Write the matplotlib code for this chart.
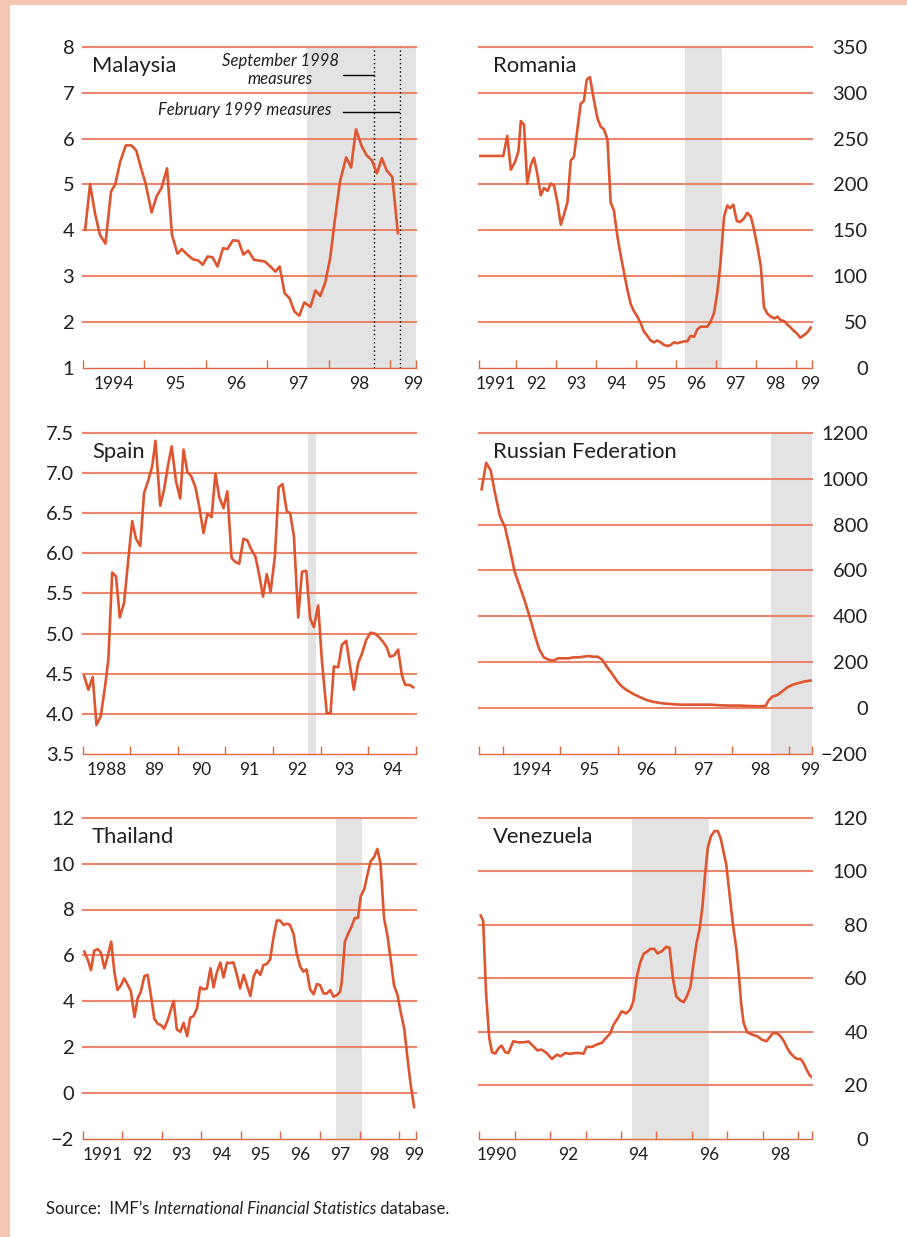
import numpy as np
import matplotlib.pyplot as plt
from matplotlib.patches import Rectangle

plt.rcParams['font.family'] = ['Lato', 'DejaVu Sans']

# ---- data (decimal years, values) ----
malaysia_x = [1994.04, 1994.12, 1994.20, 1994.28, 1994.37, 1994.46, 1994.53, 1994.61, 1994.70, 1994.79,
              1994.87, 1994.94, 1995.02, 1995.12, 1995.20, 1995.28, 1995.37, 1995.45, 1995.54, 1995.61,
              1995.70, 1995.79, 1995.88, 1995.95, 1996.03, 1996.11, 1996.19, 1996.28, 1996.35, 1996.44,
              1996.53, 1996.61, 1996.69, 1996.78, 1996.87, 1996.96, 1997.05, 1997.13, 1997.20, 1997.28,
              1997.36, 1997.44, 1997.52, 1997.60, 1997.70, 1997.78, 1997.86, 1997.94, 1998.02, 1998.10,
              1998.18, 1998.28, 1998.36, 1998.44, 1998.53, 1998.61, 1998.70, 1998.78, 1998.86, 1998.94,
              1999.03, 1999.12]
malaysia_y = [4.01, 5.01, 4.37, 3.90, 3.71, 4.84, 5.01, 5.50, 5.85, 5.85,
              5.74, 5.39, 5.03, 4.39, 4.74, 4.92, 5.35, 3.90, 3.49, 3.59,
              3.47, 3.37, 3.34, 3.25, 3.43, 3.41, 3.21, 3.61, 3.59, 3.78,
              3.77, 3.47, 3.56, 3.36, 3.34, 3.32, 3.21, 3.10, 3.21, 2.63,
              2.52, 2.23, 2.14, 2.43, 2.33, 2.69, 2.57, 2.86, 3.39, 4.26,
              5.06, 5.59, 5.37, 6.20, 5.84, 5.64, 5.52, 5.24, 5.57, 5.30,
              5.16, 3.94]

romania_x = [1991.10, 1991.68, 1991.78, 1991.87, 1991.97, 1992.06, 1992.12, 1992.20, 1992.28, 1992.37,
             1992.45, 1992.53, 1992.62, 1992.70, 1992.79, 1992.87, 1992.95, 1993.04, 1993.12, 1993.20,
             1993.29, 1993.37, 1993.45, 1993.54, 1993.62, 1993.70, 1993.77, 1993.85, 1993.95, 1994.04,
             1994.12, 1994.20, 1994.29, 1994.37, 1994.45, 1994.54, 1994.62, 1994.70, 1994.79, 1994.87,
             1994.95, 1995.04, 1995.12, 1995.20, 1995.29, 1995.37, 1995.46, 1995.54, 1995.62, 1995.71,
             1995.79, 1995.87, 1995.96, 1996.04, 1996.12, 1996.21, 1996.29, 1996.37, 1996.46, 1996.54,
             1996.62, 1996.71, 1996.79, 1996.87, 1996.96, 1997.04, 1997.12, 1997.21, 1997.29, 1997.36,
             1997.44, 1997.53, 1997.61, 1997.71, 1997.79, 1997.88, 1997.96, 1998.05, 1998.13, 1998.21,
             1998.30, 1998.38, 1998.47, 1998.55, 1998.63, 1998.72, 1998.80, 1998.88, 1998.97, 1999.05,
             1999.12, 1999.22, 1999.30, 1999.38]
romania_y = [231, 231, 253, 216, 224, 236, 269, 265, 201, 221,
             229, 212, 188, 196, 193, 201, 199, 180, 156, 167,
             181, 226, 230, 261, 288, 291, 314, 317, 292, 272,
             263, 260, 249, 180, 172, 143, 123, 105, 85, 70,
             62, 56, 49, 40, 35, 30, 28, 30, 28, 25,
             24, 25, 28, 27, 28, 29, 29, 35, 34, 42,
             45, 45, 45, 50, 60, 82, 114, 165, 177, 174,
             178, 160, 159, 163, 169, 165, 151, 131, 111, 66,
             59, 56, 54, 56, 52, 51, 47, 44, 40, 37,
             33, 36, 39, 44]

spain_x = [1988.03, 1988.12, 1988.21, 1988.29, 1988.38, 1988.47, 1988.54, 1988.62, 1988.70, 1988.78,
           1988.87, 1988.95, 1989.04, 1989.12, 1989.21, 1989.29, 1989.37, 1989.46, 1989.53, 1989.63,
           1989.71, 1989.79, 1989.87, 1989.96, 1990.05, 1990.12, 1990.20, 1990.28, 1990.37, 1990.45,
           1990.54, 1990.62, 1990.71, 1990.79, 1990.87, 1990.96, 1991.04, 1991.13, 1991.21, 1991.29,
           1991.38, 1991.46, 1991.54, 1991.63, 1991.71, 1991.79, 1991.87, 1991.95, 1992.04, 1992.12,
           1992.20, 1992.29, 1992.36, 1992.44, 1992.53, 1992.61, 1992.70, 1992.78, 1992.86, 1992.95,
           1993.03, 1993.13, 1993.21, 1993.28, 1993.37, 1993.45, 1993.54, 1993.62, 1993.70, 1993.79,
           1993.87, 1993.96, 1994.05, 1994.14, 1994.22, 1994.31, 1994.39, 1994.46, 1994.55, 1994.63,
           1994.71, 1994.78, 1994.87, 1994.95]
spain_y = [4.47, 4.30, 4.46, 3.86, 3.97, 4.34, 4.68, 5.76, 5.71, 5.20,
           5.38, 5.87, 6.40, 6.18, 6.09, 6.75, 6.89, 7.08, 7.40, 6.59,
           6.79, 7.08, 7.33, 6.90, 6.68, 7.29, 7.01, 6.96, 6.82, 6.58,
           6.25, 6.49, 6.45, 6.99, 6.70, 6.56, 6.77, 5.94, 5.89, 5.87,
           6.18, 6.16, 6.05, 5.96, 5.73, 5.46, 5.74, 5.52, 5.96, 6.82,
           6.86, 6.52, 6.50, 6.21, 5.20, 5.77, 5.78, 5.19, 5.08, 5.35,
           4.65, 4.01, 4.01, 4.59, 4.58, 4.86, 4.91, 4.59, 4.30, 4.63,
           4.75, 4.92, 5.01, 5.00, 4.96, 4.90, 4.83, 4.71, 4.73, 4.80,
           4.48, 4.36, 4.36, 4.33]

russia_x = [1993.62, 1993.70, 1993.78, 1993.85, 1993.94, 1994.03, 1994.12, 1994.20, 1994.29, 1994.38,
            1994.47, 1994.56, 1994.63, 1994.71, 1994.80, 1994.88, 1994.96, 1995.05, 1995.14, 1995.23,
            1995.32, 1995.40, 1995.49, 1995.57, 1995.65, 1995.73, 1995.81, 1995.90, 1996.00, 1996.08,
            1996.16, 1996.28, 1996.40, 1996.51, 1996.63, 1996.78, 1996.92, 1997.10, 1997.27, 1997.45,
            1997.63, 1997.80, 1997.98, 1998.15, 1998.33, 1998.50, 1998.59, 1998.65, 1998.71, 1998.80,
            1998.88, 1998.97, 1999.06, 1999.15, 1999.26, 1999.38]
russia_y = [953, 1069, 1035, 943, 837, 788, 689, 594, 529, 464,
            391, 311, 256, 221, 210, 207, 217, 217, 217, 221,
            221, 224, 227, 224, 224, 212, 181, 151, 115, 93,
            79, 61, 47, 35, 27, 21, 18, 15, 15, 15,
            15, 12, 11, 11, 9, 8, 9, 35, 50, 57,
            72, 90, 101, 108, 115, 120]

thailand_x = [1991.04, 1991.13, 1991.21, 1991.29, 1991.38, 1991.46, 1991.55, 1991.63, 1991.72, 1991.80,
              1991.88, 1991.97, 1992.05, 1992.14, 1992.22, 1992.31, 1992.39, 1992.47, 1992.56, 1992.64,
              1992.73, 1992.81, 1992.89, 1992.98, 1993.06, 1993.15, 1993.23, 1993.30, 1993.38, 1993.47,
              1993.55, 1993.64, 1993.72, 1993.80, 1993.89, 1993.97, 1994.06, 1994.14, 1994.23, 1994.31,
              1994.39, 1994.48, 1994.56, 1994.65, 1994.73, 1994.81, 1994.90, 1994.98, 1995.07, 1995.15,
              1995.24, 1995.32, 1995.40, 1995.49, 1995.57, 1995.66, 1995.74, 1995.83, 1995.91, 1995.99,
              1996.08, 1996.16, 1996.24, 1996.33, 1996.41, 1996.50, 1996.58, 1996.66, 1996.75, 1996.84,
              1996.92, 1997.00, 1997.09, 1997.17, 1997.26, 1997.34, 1997.43, 1997.51, 1997.55, 1997.63,
              1997.71, 1997.80, 1997.88, 1997.96, 1998.03, 1998.12, 1998.20, 1998.28, 1998.37, 1998.45,
              1998.53, 1998.62, 1998.71, 1998.79, 1998.87, 1998.96, 1999.04, 1999.13, 1999.21, 1999.29,
              1999.38]
thailand_y = [6.17, 5.80, 5.36, 6.21, 6.27, 6.12, 5.44, 5.95, 6.60, 5.29,
              4.49, 4.71, 5.00, 4.71, 4.42, 3.32, 4.13, 4.42, 5.10, 5.15,
              4.20, 3.25, 3.03, 2.96, 2.81, 3.18, 3.64, 4.02, 2.77, 2.67,
              3.06, 2.48, 3.29, 3.35, 3.69, 4.61, 4.52, 4.56, 5.44, 4.61,
              5.25, 5.69, 5.04, 5.69, 5.66, 5.70, 5.15, 4.56, 5.15, 4.71,
              4.23, 5.07, 5.36, 5.15, 5.58, 5.63, 5.83, 6.85, 7.52, 7.52,
              7.33, 7.38, 7.33, 6.94, 6.09, 5.51, 5.29, 5.39, 4.52, 4.31,
              4.75, 4.71, 4.34, 4.34, 4.49, 4.20, 4.27, 4.42, 4.85, 6.60,
              6.94, 7.26, 7.63, 7.63, 8.57, 8.89, 9.52, 10.10, 10.29, 10.64,
              10.00, 7.63, 6.82, 5.80, 4.71, 4.27, 3.54, 2.81, 1.57, 0.41,
              -0.61]

venezuela_x = [1990.04, 1990.11, 1990.19, 1990.28, 1990.36, 1990.45, 1990.55, 1990.63, 1990.73, 1990.82,
               1990.96, 1991.10, 1991.24, 1991.39, 1991.53, 1991.64, 1991.76, 1991.90, 1992.05, 1992.19,
               1992.30, 1992.42, 1992.56, 1992.71, 1992.85, 1992.94, 1993.03, 1993.18, 1993.32, 1993.46,
               1993.58, 1993.69, 1993.79, 1993.90, 1994.02, 1994.14, 1994.26, 1994.35, 1994.45, 1994.54,
               1994.64, 1994.73, 1994.83, 1994.94, 1995.03, 1995.16, 1995.28, 1995.37, 1995.47, 1995.56,
               1995.67, 1995.77, 1995.86, 1995.96, 1996.05, 1996.13, 1996.22, 1996.30, 1996.37, 1996.45,
               1996.54, 1996.64, 1996.73, 1996.81, 1996.88, 1996.97, 1997.07, 1997.16, 1997.26, 1997.33,
               1997.39, 1997.46, 1997.56, 1997.70, 1997.84, 1997.98, 1998.11, 1998.20, 1998.29, 1998.41,
               1998.50, 1998.60, 1998.69, 1998.78, 1998.88, 1998.97, 1999.07, 1999.14, 1999.24, 1999.33,
               1999.38]
venezuela_y = [83.5, 81.4, 54.6, 37.8, 32.4, 31.9, 34.0, 34.9, 32.4, 32.1,
               36.5, 36.1, 36.1, 36.4, 34.6, 33.1, 33.4, 32.1, 29.9, 31.5,
               30.9, 32.1, 31.8, 32.1, 32.1, 31.8, 34.4, 34.4, 35.3, 35.9,
               37.8, 39.3, 42.7, 44.9, 47.7, 46.9, 48.3, 51.5, 60.8, 65.8,
               69.2, 69.9, 71.0, 71.0, 69.3, 70.2, 71.8, 71.4, 59.6, 53.3,
               51.8, 51.1, 53.3, 56.8, 65.8, 73.0, 78.5, 87.0, 98.2, 108.8,
               113.1, 115.0, 115.0, 112.5, 108.2, 102.6, 90.7, 80.1, 70.8, 60.8,
               50.8, 43.4, 39.9, 39.0, 38.4, 37.1, 36.5, 38.1, 39.6, 39.4,
               38.4, 36.5, 34.0, 32.1, 30.7, 29.9, 29.9, 28.7, 25.9, 23.7,
               23.2]

# x tick labels, one per year (Venezuela every other year)
malaysia_labels = ['1994', '95', '96', '97', '98', '99']
romania_labels = ['1991', '92', '93', '94', '95', '96', '97', '98', '99']
spain_labels = ['1988', '89', '90', '91', '92', '93', '94']
russia_labels = ['1994', '95', '96', '97', '98', '99']
thailand_labels = ['1991', '92', '93', '94', '95', '96', '97', '98', '99']
venezuela_labels = ['1990', '92', '94', '96', '98']

BORDER = '#F5C6B1'
GRID = '#E8876B'
LINE = '#DE5530'
SPINE = '#E0673F'
SHADE = '#E3E3E3'
TXT = '#231F20'

fig = plt.figure(figsize=(9.07, 12.37), dpi=100, facecolor=BORDER)
fig.add_artist(Rectangle((10 / 907, 0), 1, 1 - 5 / 1237, transform=fig.transFigure,
                         facecolor='white', edgecolor='none', zorder=0))


def panel(rect, x, y, name, xlim, ylim, ystep, labels, label_years,
          shade=None, right=False, fmt='{:g}'):
    ax = fig.add_axes(rect)
    ax.patch.set_visible(False)
    ax.plot(x, y, color=LINE, lw=1.9, zorder=3, solid_joinstyle='round')
    ax.set_xlim(*xlim)
    ax.set_ylim(*ylim)
    if shade:
        ax.axvspan(shade[0], shade[1], color=SHADE, lw=0, zorder=0)
    yt = np.arange(ylim[0], ylim[1] + ystep / 2, ystep)
    for v in yt[1:]:
        ax.axhline(v, color=GRID, lw=1.5, zorder=1, clip_on=False)
    ax.set_yticks(yt)
    ax.set_yticklabels([fmt.format(v).replace('-', '\u2212') for v in yt])
    for s in ['top', 'left', 'right']:
        ax.spines[s].set_visible(False)
    ax.spines['bottom'].set_color(SPINE)
    ax.spines['bottom'].set_linewidth(1.0)
    # year boundary ticks plus both ends
    years = [yy for yy in range(int(np.ceil(xlim[0])), int(xlim[1]) + 1)]
    majors = sorted(set([xlim[0]] + years + [xlim[1]]))
    ax.set_xticks(majors)
    ax.set_xticklabels([])
    ax.tick_params(axis='x', which='major', direction='in', length=5.5, width=1.0, color=SPINE)
    ax.set_xticks([min(yy + 0.5, xlim[1] - 0.04) for yy in label_years], minor=True)
    ax.set_xticklabels(labels, minor=True)
    ax.tick_params(axis='x', which='minor', length=0, pad=6, labelsize=12.5, labelcolor=TXT)
    if right:
        ax.yaxis.tick_right()
        ax.tick_params(axis='y', length=0, pad=40, labelsize=14.5, labelcolor=TXT)
        for t in ax.get_yticklabels():
            t.set_ha('right')
    else:
        ax.tick_params(axis='y', length=0, pad=6, labelsize=14.5, labelcolor=TXT)
    ax.text(0.04 if right else 0.028, 0.94, name, transform=ax.transAxes,
            fontsize=15.8, color=TXT, va='center', ha='left')
    return ax


L, R, W = 82.7 / 907, 479.3 / 907, 333 / 907
H = 321.3 / 1237
rows = [(1237 - 368) / 1237, (1237 - 754) / 1237, (1237 - 1139) / 1237]

ax1 = panel([L, rows[0], W, H], malaysia_x, malaysia_y, 'Malaysia', (1994.0, 1999.41), (1, 8), 1,
            malaysia_labels, [1994, 1995, 1996, 1997, 1998, 1999], shade=(1997.64, 1999.41))
ax1.axvline(1998.74, color='black', ls=(0, (1, 2)), lw=1.0, zorder=2)
ax1.axvline(1999.16, color='black', ls=(0, (1, 2)), lw=1.0, zorder=2)
ax1.text(1997.21, 7.49, 'September 1998\nmeasures', style='italic', fontsize=12, color=TXT,
         ha='center', va='center', linespacing=1.1)
ax1.plot([1998.23, 1998.73], [7.38, 7.38], color='black', lw=1.0, zorder=2)
ax1.text(1998.05, 6.62, 'February 1999 measures', style='italic', fontsize=12, color=TXT,
         ha='right', va='center')
ax1.plot([1998.23, 1999.14], [6.57, 6.57], color='black', lw=1.0, zorder=2)

panel([R, rows[0], W, H], romania_x, romania_y, 'Romania', (1991.08, 1999.42), (0, 350), 50,
      romania_labels, list(range(1991, 2000)), shade=(1996.23, 1997.15), right=True)

panel([L, rows[1], W, H], spain_x, spain_y, 'Spain', (1988.0, 1995.0), (3.5, 7.5), 0.5,
      spain_labels, list(range(1988, 1995)), shade=(1992.74, 1992.90), fmt='{:.1f}')

panel([R, rows[1], W, H], russia_x, russia_y, 'Russian Federation', (1993.58, 1999.41), (-200, 1200), 200,
      russia_labels, list(range(1994, 2000)), shade=(1998.68, 1999.41), right=True)

panel([L, rows[2], W, H], thailand_x, thailand_y, 'Thailand', (1991.0, 1999.42), (-2, 12), 2,
      thailand_labels, list(range(1991, 2000)), shade=(1997.40, 1998.07))

panel([R, rows[2], W, H], venezuela_x, venezuela_y, 'Venezuela', (1990.0, 1999.40), (0, 120), 20,
      venezuela_labels, [1990, 1992, 1994, 1996, 1998], shade=(1994.32, 1996.48), right=True)

# source line, mixed roman / italic
renderer = fig.canvas.get_renderer()
xpos = 46 / 907
for s, st in [("Source:  IMF\u2019s ", 'normal'), ("International Financial Statistics", 'italic'),
              (" database.", 'normal')]:
    t = fig.text(xpos, 1 - 1209 / 1237, s, style=st, fontsize=12, color=TXT, va='center', ha='left')
    bb = t.get_window_extent(renderer)
    xpos = bb.x1 / fig.bbox.width

fig.savefig('out.png', dpi=100, facecolor=BORDER)
